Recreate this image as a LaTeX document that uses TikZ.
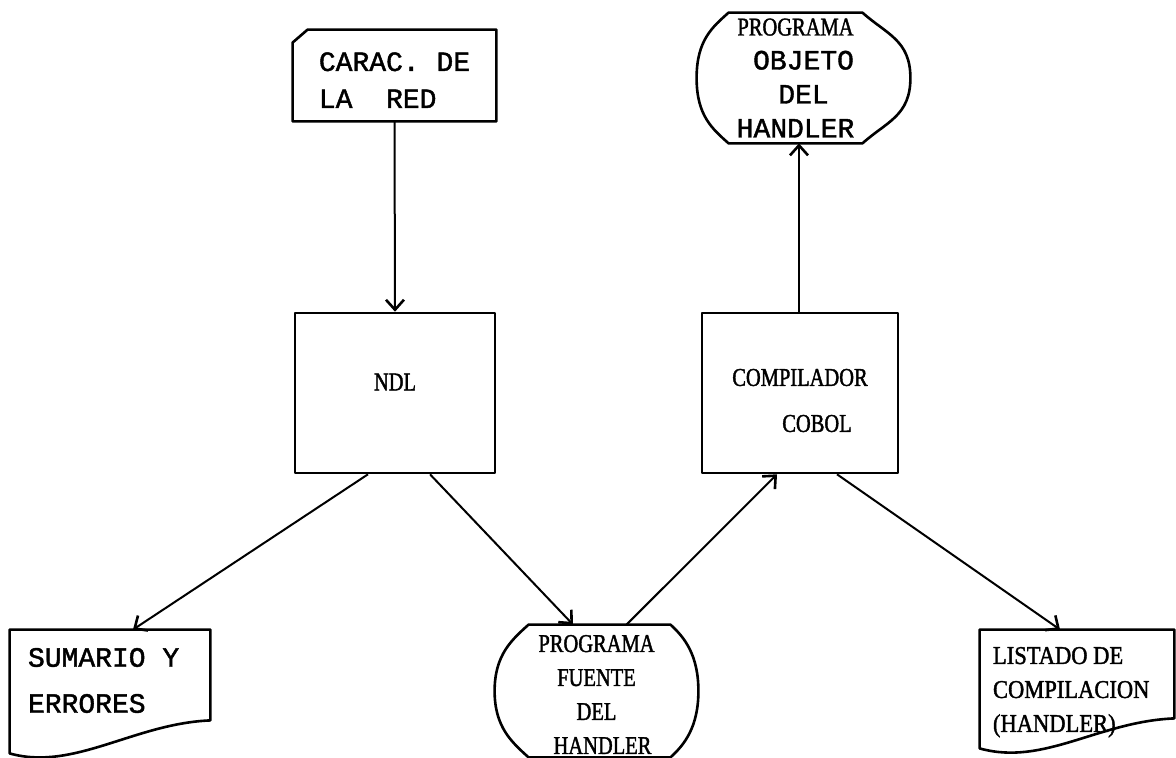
\documentclass[tikz,border=0pt]{standalone}
\usepackage{fontspec}
\setmainfont{Liberation Serif}
\newfontfamily\narrowserif[FakeStretch=0.8,FakeBold=1.5]{Liberation Serif}
\newfontfamily\listserif[FakeStretch=0.88,FakeBold=1.5]{Liberation Serif}
\newfontfamily\typewriter[FakeBold=1.5]{Liberation Mono}
\usetikzlibrary{arrows.meta}

% flat top and bottom, bulging sides:
% #1 node, #2 left inset, #3 right inset of the flat edges, #4 side handle
\newcommand\flowbulge[4]{%
  \draw[outline] ([xshift=#2]#1.north west) -- ([xshift=-#3]#1.north east)
    .. controls +(0.5*#3,-0.45*#3) and +(0pt,#4) .. (#1.east)
    .. controls +(0pt,-#4) and +(0.5*#3,0.45*#3) .. ([xshift=-#3]#1.south east)
    -- ([xshift=#2]#1.south west)
    .. controls +(-0.5*#2,0.45*#2) and +(0pt,-#4) .. (#1.west)
    .. controls +(0pt,#4) and +(-0.5*#2,-0.45*#2) .. ([xshift=#2]#1.north west)
    -- cycle;}

% printed document: #1 node, #2 height of the right end of the wavy bottom
\newcommand\flowdoc[2]{%
  \draw[outline] (#1.south west) -- (#1.north west) -- (#1.north east)
    -- ([yshift=#2]#1.south east)
    .. controls +(-38pt,-1.5pt) and +(32pt,-9pt) .. (#1.south west) -- cycle;}

\begin{document}
\begin{tikzpicture}[x=0.5pt,y=-0.5pt,
  outline/.style={line width=1.3pt, line join=round},
  shapenode/.style={inner sep=0pt},
  procbox/.style={draw, outline, rectangle, inner sep=0pt},
  serif/.style={font=\narrowserif\fontsize{12.8}{17}\selectfont},
  mono/.style={font=\typewriter\fontsize{14}{17}\selectfont},
  flow/.style={line width=1pt,
    -{Straight Barb[length=5pt,width=9pt,line width=1.3pt]}},
  labeltext/.style={anchor=north west, align=left, inner sep=0pt},
]
\path[use as bounding box, fill=white] (0,0) rectangle (1176,758);

% input card
\node[shapenode, mono, align=left, minimum width=101.5pt, minimum height=45.5pt]
  (carac) at (394.5,75.5) {\rule{0pt}{14pt}CARAC. DE\\[1.5pt]LA\ \ RED};
\draw[outline] ([yshift=-6.5pt]carac.north west) -- ([xshift=7.5pt]carac.north west)
  -- (carac.north east) -- (carac.south east) -- (carac.south west) -- cycle;

% processes
\node[procbox, serif, minimum width=100pt, minimum height=80pt]
  (ndl) at (395,393) {\rule[-11pt]{0pt}{0pt}NDL};
\node[procbox, serif, align=center, minimum width=98pt, minimum height=80pt]
  (comp) at (800,393) {\rule{0pt}{16pt}COMPILADOR\\[6pt]\hspace*{17pt}COBOL};

% stored programs
\node[shapenode, mono, align=center, minimum width=106.5pt, minimum height=65pt]
  (obj) at (803.5,78)
  {{\narrowserif\fontsize{12.8}{17}\selectfont PROGRAMA}\hspace*{8pt}\\
   OBJETO\hspace*{18pt}\\DEL\\HANDLER\hspace*{8pt}};
\flowbulge{obj}{16pt}{24pt}{19pt}
\node[shapenode, serif, align=center, minimum width=101.5pt, minimum height=66pt]
  (fuente) at (596.5,691)
  {\rule{0pt}{12pt}PROGRAMA\\FUENTE\\DEL\hspace*{13pt}\\\hspace*{6pt}HANDLER};
\flowbulge{fuente}{17pt}{14pt}{18pt}

% printed reports
\node[shapenode, minimum width=100pt, minimum height=61.5pt] (sum) at (110,691.5) {};
\flowdoc{sum}{16.5pt}
\node[labeltext, mono] (sum-t) at ([shift={(9pt,-9pt)}]sum.north west)
  {SUMARIO Y\\[6pt]ERRORES};
\node[shapenode, minimum width=97pt, minimum height=59pt] (lst) at (1077,689) {};
\flowdoc{lst}{15pt}
\node[labeltext, font=\listserif\fontsize{12.8}{17}\selectfont] (lst-t)
  at ([shift={(6.5pt,-8.5pt)}]lst.north west)
  {LISTADO DE\\COMPILACION\\(HANDLER)};

% data flow
\draw[flow] (carac.south) -- (ndl.north);
\draw[flow] ([xshift=-13.5pt]ndl.south) -- ([xshift=11.5pt]sum.north);
\draw[flow] ([xshift=17.5pt]ndl.south) -- ([xshift=-11.75pt]fuente.north);
\draw[flow] ([xshift=15pt]fuente.north) -- ([xshift=-11.5pt]comp.south);
\draw[flow] ([xshift=18.5pt]comp.south) -- ([xshift=-8.5pt]lst.north);
\draw[flow] ([xshift=-0.5pt]comp.north) -- ([xshift=-0.5pt]comp.north |- obj.south);
\end{tikzpicture}
\end{document}
